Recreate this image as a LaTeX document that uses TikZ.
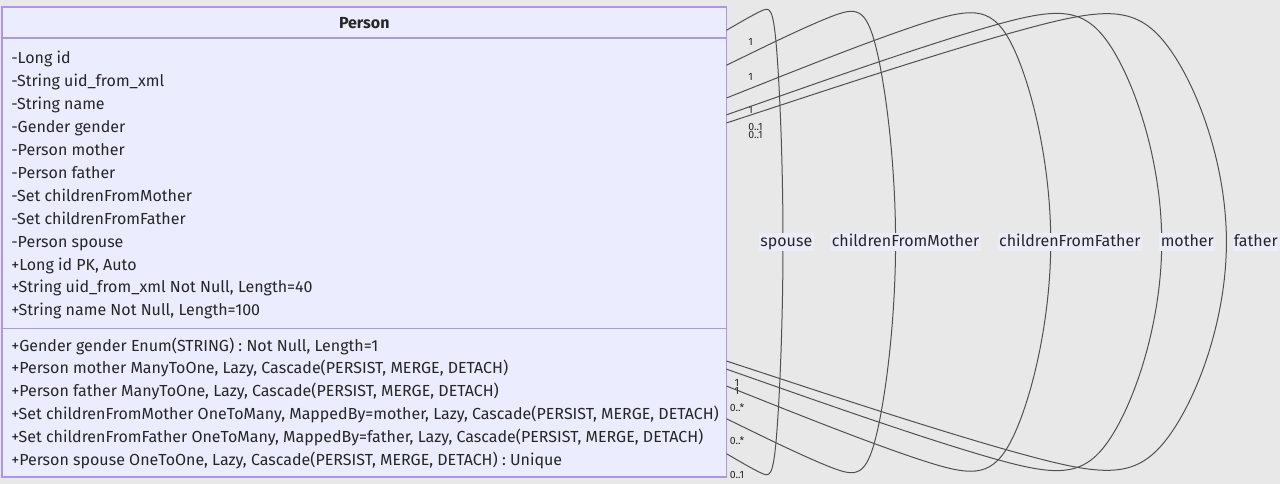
\documentclass[tikz,border=0pt]{standalone}
\usepackage{fontspec}
\setmainfont{Fira Sans}
\usetikzlibrary{calc, positioning}
\definecolor{canvasgray}{HTML}{E8E8E8}
\definecolor{classfill}{HTML}{ECECFF}
\definecolor{classline}{rgb}{0.68, 0.59, 0.90}
\definecolor{textgray}{HTML}{262626}
\definecolor{relgray}{HTML}{505050}
\definecolor{labelfill}{HTML}{EBEBFA}

\begin{document}
\begin{tikzpicture}[x=0.75pt, y=-0.75pt,
    member/.style={anchor=base west, inner sep=0pt, font=\fontsize{12}{14}\selectfont, text=textgray},
    relline/.style={draw=relgray, line width=0.75pt},
    rellabel/.style={fill=labelfill, inner sep=1pt, text height=9.5pt, text depth=2.5pt, font=\fontsize{12}{14}\selectfont, text=textgray},
    card/.style={inner sep=0pt, font=\fontsize{7.9}{9}\selectfont, text=textgray}]%
    \def\boxL{2}
    \def\boxR{726.5}
    \def\boxT{7}
    \def\boxB{477}
    \def\rowH{22.9}
    \pgfmathsetmacro\boxCx{(\boxL+\boxR)/2}
    \pgfmathsetmacro\boxCy{(\boxT+\boxB)/2}
    \pgfmathsetmacro\halfW{(\boxR-\boxL)/2}
    \pgfmathsetmacro\halfH{(\boxB-\boxT)/2}
    \pgfmathsetmacro\boxWpt{(\boxR-\boxL)*0.75}
    \pgfmathsetmacro\boxHpt{(\boxB-\boxT)*0.75}
    \fill [canvasgray] (0,0) rectangle (1280,484);
    \useasboundingbox (0,0) rectangle (1280,484);

    % class box
    \node (person) [draw=classline, fill=classfill, line width=1.1pt, inner sep=0pt,
        minimum width=\boxWpt pt, minimum height=\boxHpt pt] at (\boxCx,\boxCy) {};
    \node (personHead) [anchor=base, inner sep=0pt, text=textgray, font=\bfseries\fontsize{12}{14}\selectfont] at (\boxCx,29) {Person};
    \draw [classline, line width=1.1pt] (\boxL,38) -- (\boxR,38);
    \draw [classline, line width=1.1pt] (\boxL,328.5) -- (\boxR,328.5);

    \foreach \txt [count=\i from 0] in {-Long id, -String uid\_from\_xml, -String name, -Gender gender,
        -Person mother, -Person father, -Set childrenFromMother, -Set childrenFromFather, -Person spouse,
        {+Long id PK, Auto}, {+String uid\_from\_xml Not Null, Length=40}, {+String name Not Null, Length=100}}
        \node (attr-\i) [member] at (11, 64+\i*\rowH) {\txt};

    \foreach \txt [count=\i from 0] in {{+Gender gender Enum(STRING) : Not Null, Length=1},
        {+Person mother ManyToOne, Lazy, Cascade(PERSIST, MERGE, DETACH)},
        {+Person father ManyToOne, Lazy, Cascade(PERSIST, MERGE, DETACH)},
        {+Set childrenFromMother OneToMany, MappedBy=mother, Lazy, Cascade(PERSIST, MERGE, DETACH)},
        {+Set childrenFromFather OneToMany, MappedBy=father, Lazy, Cascade(PERSIST, MERGE, DETACH)},
        {+Person spouse OneToOne, Lazy, Cascade(PERSIST, MERGE, DETACH) : Unique}}
        \node (meth-\i) [member] at (11, 351+\i*\rowH) {\txt};

    % self relations: loop points right of the box, drawn as a basis spline
    \foreach \d/\lbl/\cs/\ce [count=\i] in {59.8/spouse/1/{0..1}, 179/childrenFromMother/1/{0..*},
        343.3/childrenFromFather/1/{0..*}, 460.8/mother/{0..1}/1, 529.3/father/{0..1}/1}{
        \pgfmathsetmacro\dy{\halfH/(1+2*\d/(3*\halfW))}
        \coordinate (l\i-0) at (\boxR, \boxCy-\dy);
        \coordinate (l\i-1) at (\boxR+2*\d/3, \boxT);
        \coordinate (l\i-2) at (\boxR+5*\d/6, \boxT);
        \coordinate (l\i-3) at (\boxR+\d, \boxCy);
        \coordinate (l\i-4) at (\boxR+5*\d/6, \boxB);
        \coordinate (l\i-5) at (\boxR+2*\d/3, \boxB);
        \coordinate (l\i-6) at (\boxR, \boxCy+\dy);
        \draw [relline] (l\i-0) -- ($(l\i-0)!1/6!(l\i-1)$)
            .. controls ($(l\i-0)!1/3!(l\i-1)$) and ($(l\i-0)!2/3!(l\i-1)$) .. ($.16667*(l\i-0)+.66667*(l\i-1)+.16667*(l\i-2)$)
            .. controls ($(l\i-1)!1/3!(l\i-2)$) and ($(l\i-1)!2/3!(l\i-2)$) .. ($.16667*(l\i-1)+.66667*(l\i-2)+.16667*(l\i-3)$)
            .. controls ($(l\i-2)!1/3!(l\i-3)$) and ($(l\i-2)!2/3!(l\i-3)$) .. ($.16667*(l\i-2)+.66667*(l\i-3)+.16667*(l\i-4)$)
            .. controls ($(l\i-3)!1/3!(l\i-4)$) and ($(l\i-3)!2/3!(l\i-4)$) .. ($.16667*(l\i-3)+.66667*(l\i-4)+.16667*(l\i-5)$)
            .. controls ($(l\i-4)!1/3!(l\i-5)$) and ($(l\i-4)!2/3!(l\i-5)$) .. ($.16667*(l\i-4)+.66667*(l\i-5)+.16667*(l\i-6)$)
            .. controls ($(l\i-5)!1/3!(l\i-6)$) and ($(l\i-5)!2/3!(l\i-6)$) .. ($(l\i-6)!1/6!(l\i-5)$)
            -- (l\i-6);
        \node (rel-\i) [rellabel] at (l\i-3) {\lbl};
        \node (cardS-\i) [card, anchor=west] at ([shift={(21.5,12)}]l\i-0) {\cs};
        \node (cardE-\i) [card] at ([shift={(10.5,21.5)}]l\i-6) {\ce};
    }
\end{tikzpicture}
\end{document}
